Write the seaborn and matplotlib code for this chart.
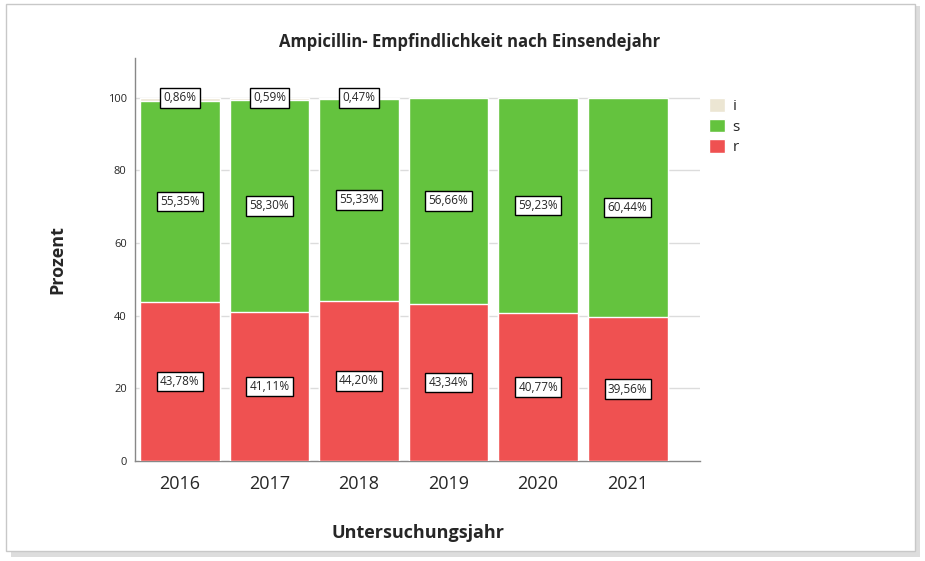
import pandas as pd
import matplotlib
matplotlib.use("Agg")
import matplotlib.pyplot as plt
import seaborn as sns
from matplotlib.patches import Rectangle, Patch

# data
years = ["2016", "2017", "2018", "2019", "2020", "2021"]
r_vals = [43.78, 41.11, 44.20, 43.34, 40.77, 39.56]
s_vals = [55.35, 58.30, 55.33, 56.66, 59.23, 60.44]
i_vals = [0.86, 0.59, 0.47, 0.0, 0.0, 0.0]

col_r = "#EF5151"
col_s = "#64C33E"
col_i = "#ECE6D3"

df = pd.DataFrame({"year": years, "r": r_vals, "s": s_vals, "i": i_vals})
df["rs"] = df["r"] + df["s"]
df["rsi"] = df["rs"] + df["i"]

sns.set_style("white")
plt.rcParams["font.family"] = ["Open Sans", "DejaVu Sans"]

fig = plt.figure(figsize=(9.25, 5.61), dpi=100)
ax = fig.add_axes([0.146, 0.178, 0.611, 0.719])

# frame with a soft shadow, like the screenshot
fig.patches.append(Rectangle((0.012, 0.008), 0.983, 0.982, transform=fig.transFigure,
                             facecolor="#dddddd", edgecolor="none", zorder=-2))
fig.patches.append(Rectangle((0.006, 0.018), 0.983, 0.975, transform=fig.transFigure,
                             facecolor="white", edgecolor="#c8c8c8", lw=1.0, zorder=-1))

ax.set_axisbelow(True)
for v in [20, 40, 60, 80, 100]:
    ax.axhline(v, color="#dcdcdc", lw=1.0, zorder=0)

# stacked bars: draw totals first, then cover with lower segments
sns.barplot(data=df, x="year", y="rsi", color=col_i, width=0.89, saturation=1, ax=ax, zorder=2)
sns.barplot(data=df, x="year", y="rs", color=col_s, width=0.89, saturation=1, ax=ax, zorder=3)
sns.barplot(data=df, x="year", y="r", color=col_r, width=0.89, saturation=1, ax=ax, zorder=4)

box = dict(boxstyle="square,pad=0.28", facecolor="white", edgecolor="black", lw=1.0)
fmt = lambda v: f"{v:.2f}%".replace(".", ",")
for k in range(len(years)):
    ax.text(k, r_vals[k] / 2, fmt(r_vals[k]), ha="center", va="center",
            fontsize=8.5, bbox=box, zorder=6)
    ax.text(k, r_vals[k] + s_vals[k] / 2, fmt(s_vals[k]), ha="center", va="center",
            fontsize=8.5, bbox=box, zorder=6)
    if i_vals[k] > 0:
        ax.text(k, r_vals[k] + s_vals[k] + i_vals[k], fmt(i_vals[k]), ha="center", va="center",
                fontsize=8.5, bbox=box, zorder=6)

ax.set_xlim(-0.5, 5.81)
ax.set_ylim(0, 111)
ax.set_yticks([0, 20, 40, 60, 80, 100])
ax.tick_params(axis="y", labelsize=8, length=0, pad=6)
ax.tick_params(axis="x", labelsize=13, length=0, pad=10)

for side in ["top", "right"]:
    ax.spines[side].set_visible(False)
for side in ["left", "bottom"]:
    ax.spines[side].set_color("#888888")
    ax.spines[side].set_linewidth(1.0)

ax.set_xlabel("Untersuchungsjahr", fontsize=13, fontweight="bold", labelpad=22)
ax.set_ylabel("Prozent", fontsize=13, fontweight="bold", labelpad=30)
fig.text(0.508, 0.925, "Ampicillin- Empfindlichkeit nach Einsendejahr",
         ha="center", va="center", fontsize=12, fontweight="bold")

handles = [Patch(facecolor=col_i, label="i"),
           Patch(facecolor=col_s, label="s"),
           Patch(facecolor=col_r, label="r")]
fig.legend(handles=handles, loc="upper left", bbox_to_anchor=(0.752, 0.85),
           frameon=False, fontsize=11, handlelength=1.0, handleheight=1.0,
           handletextpad=0.5, labelspacing=0.3)

fig.savefig("out.png", dpi=100)
plt.close()
